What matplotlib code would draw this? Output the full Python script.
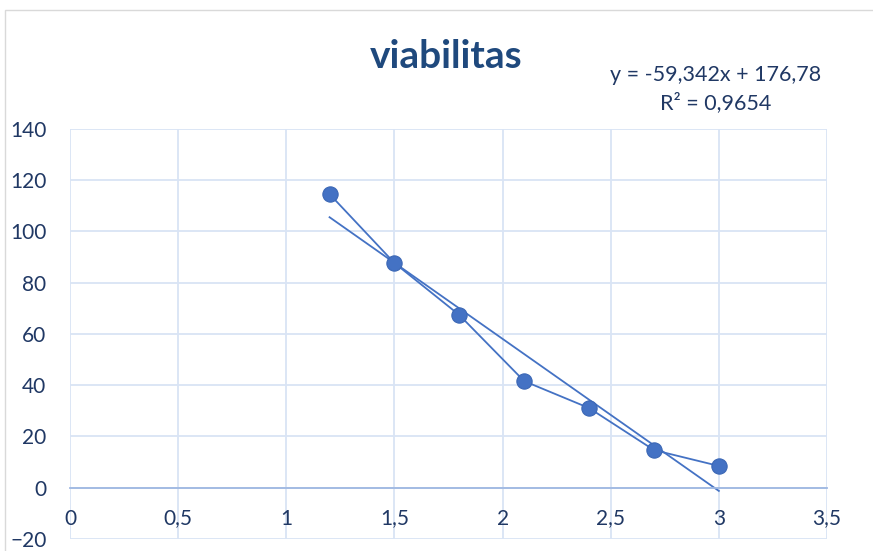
import matplotlib.pyplot as plt
import numpy as np

# --- data ---
x_vals = [1.2, 1.5, 1.8, 2.1, 2.4, 2.7, 3.0]
y_vals = [114.6, 87.7, 67.4, 41.6, 31.1, 14.7, 8.5]
slope = -59.342
intercept = 176.78
r2_text = "R² = 0,9654"
eq_text = "y = -59,342x + 176,78"

x_ticks = [0, 0.5, 1, 1.5, 2, 2.5, 3, 3.5]
x_labels = ["0", "0,5", "1", "1,5", "2", "2,5", "3", "3,5"]
y_ticks = [-20, 0, 20, 40, 60, 80, 100, 120, 140]

plt.rcParams['font.family'] = ['Lato', 'DejaVu Sans']
text_col = '#203864'
blue = '#4472C4'
grid_col = '#D9E4F5'

fig = plt.figure(figsize=(8.73, 5.51), dpi=100)
ax = fig.add_axes([0.0802, 0.0218, 0.8671, 0.7441])

# chart border (partly visible in the reference)
fig.patches.append(plt.Rectangle((0.006, -0.1), 1.2, 1.082, transform=fig.transFigure,
                                 fill=False, edgecolor='#D9D9D9', linewidth=1.0))

ax.plot(x_vals, y_vals, color=blue, linewidth=1.3, marker='o', markersize=11,
        markerfacecolor=blue, markeredgecolor='#3B67B5', markeredgewidth=0.8, zorder=3)

tx = np.array([min(x_vals), max(x_vals)])
ax.plot(tx, slope * tx + intercept, color=blue, linewidth=1.3, zorder=2)

ax.set_xlim(0, 3.5)
ax.set_ylim(-20, 140)
ax.set_xticks(x_ticks)
ax.set_xticklabels(x_labels)
ax.set_yticks(y_ticks)
ax.grid(True, color=grid_col, linewidth=1.3)
ax.set_axisbelow(True)

for s in ['top', 'right', 'left']:
    ax.spines[s].set_visible(False)
ax.spines['bottom'].set_position(('data', 0))
ax.spines['bottom'].set_color('#9FB8E2')
ax.spines['bottom'].set_linewidth(1.3)

ax.tick_params(axis='x', length=0, pad=15, labelsize=15, labelcolor=text_col)
ax.tick_params(axis='y', length=0, pad=17, labelsize=15, labelcolor=text_col)

fig.text(0.511, 0.897, "viabilitas", ha='center', va='center', fontsize=28,
         fontweight='bold', color='#1F497D')
fig.text(0.82, 0.864, eq_text, ha='center', va='center', fontsize=15.5, color=text_col)
fig.text(0.82, 0.813, r2_text, ha='center', va='center', fontsize=15.5, color=text_col)

fig.savefig('out.png', dpi=100)
